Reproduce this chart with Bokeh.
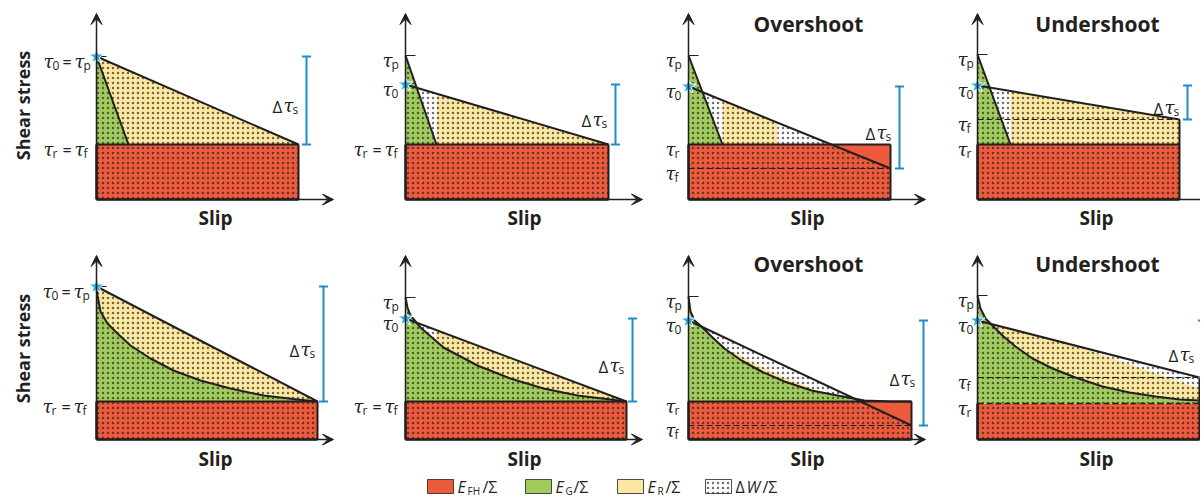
from bokeh.plotting import figure
from bokeh.layouts import column, row
from bokeh.models import Range1d, Arrow, VeeHead
from bokeh.core.properties import value
from bokeh.embed import file_html
from bokeh.resources import INLINE
import numpy as np

# ---------------- data (stress / slip in arbitrary units) ----------------
panel_title = ["", "", "Overshoot", "Undershoot", "", "", "Overshoot", "Undershoot"]
tau_p = [1.43, 1.44, 1.44, 1.45, 1.53, 1.42, 1.43, 1.44]
tau_0 = [1.43, 1.15, 1.13, 1.14, 1.53, 1.21, 1.19, 1.19]
tau_r = [0.55, 0.55, 0.55, 0.55, 0.38, 0.38, 0.38, 0.36]
tau_f = [0.55, 0.55, 0.31, 0.80, 0.38, 0.38, 0.14, 0.62]
slip_D = [2.02, 2.03, 2.02, 2.02, 2.21, 2.21, 2.23, 2.22]
slip_c = [0.32, 0.31, 0.34, 0.33]          # top row: linear slip-weakening distance

# bottom row: non-linear weakening curves
curve5_x = [0, 0.01, 0.04, 0.11, 0.21, 0.34, 0.54, 0.77, 1.04, 1.34, 1.67, 2.01, 2.21]
curve5_y = [1.50, 1.44, 1.28, 1.16, 1.06, 0.94, 0.81, 0.69, 0.59, 0.51, 0.44, 0.40, 0.38]
curve6_x = [0, 0.02, 0.05, 0.15, 0.38, 0.72, 1.05, 1.38, 1.72, 2.05, 2.21]
curve6_y = [1.42, 1.32, 1.24, 1.12, 0.92, 0.74, 0.61, 0.51, 0.44, 0.40, 0.38]
curve7_x = [0, 0.02, 0.06, 0.13, 0.23, 0.36, 0.53, 0.73, 0.96, 1.23, 1.49, 1.76, 2.03, 2.23]
curve7_y = [1.43, 1.28, 1.19, 1.13, 1.03, 0.91, 0.79, 0.68, 0.58, 0.49, 0.44, 0.39, 0.38, 0.38]
curve8_x = [0, 0.03, 0.08, 0.15, 0.25, 0.38, 0.55, 0.75, 0.98, 1.25, 1.52, 1.78, 2.02, 2.22]
curve8_y = [1.44, 1.31, 1.21, 1.14, 1.04, 0.93, 0.81, 0.71, 0.62, 0.53, 0.47, 0.43, 0.40, 0.39]

# slip intervals (under the final-stress line) filled as E_R (yellow) and as ΔW (white, dotted)
er_spans = [[(0, 2.02)], [(0.31, 2.03)], [(0.34, 0.89)], [(0.33, 2.02)],
            [(0, 2.21)], [(0.30, 2.21)], [], [(0, 2.22)]]
dw_spans = [[], [(0, 0.31)], [(0, 0.34), (0.89, 2.02)], [(0, 0.33)],
            [], [(0, 0.30)], [(0, 2.23)], [(0, 0.22)]]
# extra E_R sliver (overshoot, bottom) and ΔW wedge (undershoot, bottom)
er7_x = [0.44, 0.63, 0.79, 0.96, 1.13, 1.26]
er7_y = [0.88, 0.78, 0.70, 0.62, 0.55, 0.50]
dw8_x = [0.95, 2.22, 2.22]
dw8_y = [0.95, 0.62, 0.51]

tick_labels = [[("0", "p"), ("r", "f")], [("p",), ("0",), ("r", "f")],
               [("p",), ("0",), ("r",), ("f",)], [("p",), ("0",), ("f",), ("r",)],
               [("0", "p"), ("r", "f")], [("p",), ("0",), ("r", "f")],
               [("p",), ("0",), ("r",), ("f",)], [("p",), ("0",), ("f",), ("r",)]]

legend_names = [("E", "FH"), ("E", "G"), ("E", "R"), ("ΔW", "")]

# ---------------- layout / style (not data) ----------------
S = 100.0
axis_px = [96, 405, 688, 977, 96, 405, 688, 977]
base_py = [199, 199, 199, 199, 439, 439, 439, 439]
col_edges = [0, 335, 645, 935, 1200]
row_edges = [0, 240, 470]
lab_dx = [-51, -23, -23, -20, -51, -23, -23, -20]
lab2_dx = [-53, -52, -52, -52, -54, -52, -52, -52]
brk_dx = [8, 7, 9, 8, 6, 6, 12, 3]

RED, GREEN, YELLOW = "#EE5A3C", "#A0CC5E", "#FCE8A0"
INK, BLUE, STAR = "#231F20", "#1C8DCF", "#29ABE2"
SANS, SERIF = "Open Sans", "DejaVu Serif"
HATCH = dict(hatch_pattern="dot", hatch_scale=5, hatch_weight=1.1,
             hatch_color=INK, hatch_alpha=0.65)


def txt(p, x, y, s, dx=0, dy=0, size=16, font=SANS, style="normal",
        align="left", baseline="alphabetic", angle=0.0, color=INK):
    p.text(x=[x], y=[y], text=[s], x_offset=dx, y_offset=dy,
           text_font=value(font), text_font_size=value(f"{size}px"),
           text_font_style=style, text_align=align, text_baseline=baseline,
           angle=angle, text_color=color)


def tau(p, x, y, sub, dx):
    txt(p, x, y, "τ", dx=dx, dy=5, size=18, font=SERIF, style="italic")
    txt(p, x, y, sub, dx=dx + 9, dy=9, size=12)


curves = {4: (curve5_x, curve5_y), 5: (curve6_x, curve6_y),
          6: (curve7_x, curve7_y), 7: (curve8_x, curve8_y)}


def under_line(i, a, b, n=40):
    t0, tf, D, tr = tau_0[i], tau_f[i], slip_D[i], tau_r[i]
    xs = np.linspace(a, b, n)
    ys = np.maximum(t0 + (tf - t0) * xs / D, tr)
    return [a] + list(xs) + [b], [tr] + list(ys) + [tr]


def make_panel(i):
    c, r = i % 4, i // 4
    ax, by = axis_px[i], base_py[i]
    x0p, x1p = col_edges[c], col_edges[c + 1]
    y0p, y1p = row_edges[r], row_edges[r + 1]
    p = figure(width=x1p - x0p, height=y1p - y0p,
               x_range=Range1d((x0p - ax) / S, (x1p - ax) / S),
               y_range=Range1d((by - y1p) / S, (by - y0p) / S),
               toolbar_location=None, output_backend="svg", min_border=0,
               x_axis_type=None, y_axis_type=None, outline_line_color=None,
               border_fill_color="white", background_fill_color="white")
    tp, t0, tr, tf, D = tau_p[i], tau_0[i], tau_r[i], tau_f[i], slip_D[i]
    xc = D * (t0 - tr) / (t0 - tf) if t0 != tf else D

    # E_FH rectangle
    p.patch([0, D, D, 0], [0, 0, tr, tr], fill_color=RED, line_color=None, **HATCH)
    if tf < tr:  # overshoot: plain red part above the final line
        p.patch([xc, D, D], [tr, tr, tf], fill_color=RED, line_color=None)
    # E_R and ΔW
    for a, b in er_spans[i]:
        xs, ys = under_line(i, a, b)
        p.patch(xs, ys, fill_color=YELLOW, line_color=None, **HATCH)
    for a, b in dw_spans[i]:
        xs, ys = under_line(i, a, min(b, xc))
        p.patch(xs, ys, fill_color="white", line_color=None, **HATCH)
    if i == 6:
        p.patch(er7_x + [er7_x[-1], er7_x[0]], er7_y + [tr, tr],
                fill_color=YELLOW, line_color=None, **HATCH)
    if i == 7:
        p.patch(dw8_x, dw8_y, fill_color="white", line_color=None, **HATCH)
    # E_G
    if i < 4:
        gx, gy = [0, slip_c[i], 0], [tp, tr, tr]
        p.patch(gx, gy, fill_color=GREEN, line_color=None, **HATCH)
        p.line([0, slip_c[i]], [tp, tr], line_color=INK, line_width=2)
    else:
        cx, cy = curves[i]
        p.patch(list(cx) + [cx[-1], 0], list(cy) + [tr, tr],
                fill_color=GREEN, line_color=None, **HATCH)
        p.line(cx, cy, line_color=INK, line_width=2)

    # outlines
    top_dash = "solid" if i != 7 else "6 3"
    p.line([0, D], [tr, tr], line_color=INK, line_width=2 if i != 7 else 1.3, line_dash=top_dash)
    p.line([D, D], [0, max(tr, tf)], line_color=INK, line_width=2)
    p.line([0, D], [0, 0], line_color=INK, line_width=2.5)
    p.line([0, 0], [0, tr], line_color=INK, line_width=2.5)
    if tf != tr:
        p.line([0, D], [tf, tf], line_color=INK, line_width=1.2, line_dash="6 3")
    p.line([0, D], [t0, tf], line_color=INK, line_width=2)
    p.line([0, 0.1], [tp, tp], line_color=INK, line_width=1.2)

    # axes
    y_top = (by - 13) / S if r == 0 else (by - 255) / S
    p.add_layout(Arrow(x_start=0, y_start=0, x_end=0, y_end=y_top,
                       line_color=INK, line_width=1.5,
                       end=VeeHead(size=11, fill_color=INK, line_color=INK)))
    p.add_layout(Arrow(x_start=0, y_start=0, x_end=2.37, y_end=0,
                       line_color=INK, line_width=1.5,
                       end=VeeHead(size=11, fill_color=INK, line_color=INK)))

    # Δτs bracket
    bx = D + brk_dx[i] / S
    p.segment([bx, bx - 0.045, bx - 0.045], [tf, tf, t0], [bx, bx + 0.045, bx + 0.045], [t0, tf, t0],
              line_color=BLUE, line_width=2)
    ym = (t0 + tf) / 2
    txt(p, bx, ym, "Δ", dx=-34, dy=6, size=17)
    tau(p, bx, ym, "s", -23)

    # star
    p.scatter([0], [t0], marker="star", size=16, fill_color=STAR, line_color="white", line_width=1)

    # tick labels
    levels = {"p": tp, "0": t0, "r": tr, "f": tf}
    for lab in tick_labels[i]:
        y = levels[lab[0]]
        if len(lab) == 1:
            tau(p, 0, y, lab[0], lab_dx[i])
        else:
            s = lab2_dx[i]
            tau(p, 0, y, lab[0], s)
            txt(p, 0, y, "=", dx=s + 19, dy=5, size=16)
            tau(p, 0, y, lab[1], s + 31)

    # titles
    txt(p, 1.19, -0.18 if r == 0 else -0.19, "Slip", size=19, style="bold",
        align="center", baseline="middle")
    if panel_title[i]:
        txt(p, 1.20, 1.76, panel_title[i], size=21, style="bold", align="center", baseline="middle")
    if c == 0:
        txt(p, -0.74, 0.94 if r == 0 else 0.91, "Shear stress", size=18, style="bold",
            align="center", baseline="middle", angle=np.pi / 2)
    return p


panels = [make_panel(i) for i in range(8)]

# legend strip
lg = figure(width=1200, height=30, x_range=Range1d(0, 1200), y_range=Range1d(500, 470),
            toolbar_location=None, output_backend="svg", min_border=0,
            x_axis_type=None, y_axis_type=None, outline_line_color=None)
sw_left = [427, 525, 617, 705]
sw_fill = [RED, GREEN, YELLOW, "white"]
for k, (main, sub) in enumerate(legend_names):
    x0 = sw_left[k]
    kw = HATCH if k == 3 else {}
    lg.patch([x0, x0 + 26, x0 + 26, x0], [479, 479, 493, 493], fill_color=sw_fill[k],
             line_color=INK, line_width=0.8, **kw)
    tx = x0 + 30
    if sub:
        txt(lg, tx, 486, main, size=16, style="italic", baseline="middle")
        txt(lg, tx + 10, 490, sub, size=10, baseline="middle")
        txt(lg, tx + 11 + 7 * len(sub), 486, "/Σ", size=16, baseline="middle")
    else:
        txt(lg, tx, 486, "Δ", size=16, baseline="middle")
        txt(lg, tx + 11, 486, "W", size=16, style="italic", baseline="middle")
        txt(lg, tx + 27, 486, "/Σ", size=16, baseline="middle")

layout = column(row(*panels[:4], spacing=0), row(*panels[4:], spacing=0), lg, spacing=0)
open("out.html", "w").write(file_html(layout, INLINE))
